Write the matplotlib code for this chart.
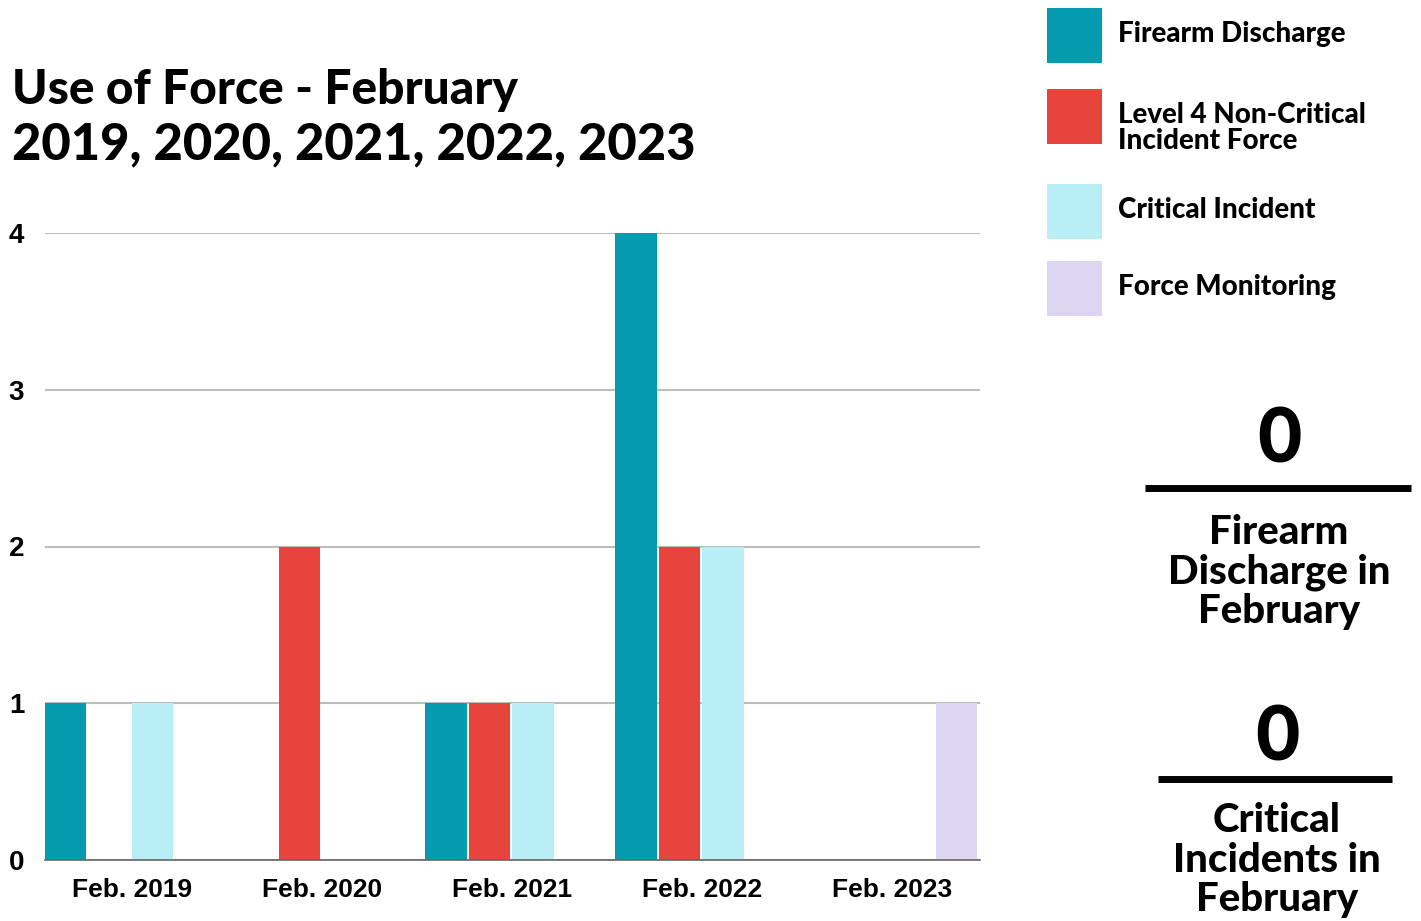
import matplotlib
matplotlib.use("Agg")
import matplotlib.pyplot as plt
from matplotlib.patches import Rectangle
from matplotlib.lines import Line2D
import numpy as np

# monthly use-of-force counts, February of each year
periods = ["Feb. 2019", "Feb. 2020", "Feb. 2021", "Feb. 2022", "Feb. 2023"]
firearm = [1, 0, 1, 4, 0]
level4 = [0, 2, 1, 2, 0]
critical = [1, 0, 1, 2, 0]
monitoring = [0, 0, 0, 0, 1]
yticks = [0, 1, 2, 3, 4]
series_names = ["Firearm Discharge", "Level 4 Non-Critical\nIncident Force",
                "Critical Incident", "Force Monitoring"]
colors = ["#049BAE", "#E8443E", "#B9EEF4", "#DDD6F3"]

HEAD = "Lato"
TICK = "Liberation Sans"
W, H = 1421, 921

fig = plt.figure(figsize=(W / 100, H / 100), dpi=100)
ax = fig.add_axes([45 / W, 61 / H, 935 / W, (860 - 233) / H])

slot, bw = 0.229, 0.218
x = np.arange(len(periods))
for k, vals in enumerate([firearm, level4, critical, monitoring]):
    ax.bar(x + k * slot, vals, width=bw, align="edge", color=colors[k],
           zorder=3, linewidth=0)

ax.set_xlim(0, 4.92)
ax.set_ylim(0, 4)
ax.set_yticks(yticks, [str(v) for v in yticks], fontsize=20,
              fontweight="bold", family=TICK)
ax.set_xticks(x + 2 * slot, periods, fontsize=19, fontweight="bold",
              family=TICK)
ax.tick_params(axis="both", length=0)
ax.tick_params(axis="y", pad=15)
ax.tick_params(axis="x", pad=13)
ax.grid(axis="y", color="#BDBDBD", lw=1.5, zorder=0)
for s in ["top", "right", "left"]:
    ax.spines[s].set_visible(False)
ax.spines["bottom"].set_color("#666666")
ax.spines["bottom"].set_linewidth(1.2)
ax.spines["bottom"].set_zorder(4)

# title
fig.text(12 / W, 1 - 90 / H, "Use of Force - February", fontsize=34.5,
         fontweight="black", family=HEAD, va="center", ha="left")
fig.text(12 / W, 1 - 145 / H, "2019, 2020, 2021, 2022, 2023", fontsize=36.5,
         fontweight="black", family=HEAD, va="center", ha="left")

# legend
box_tops = [8, 89, 184, 261]
text_y = [34, 128, 210, 287]
for top, ty, name, c in zip(box_tops, text_y, series_names, colors):
    fig.add_artist(Rectangle((1047 / W, 1 - (top + 55) / H), 55 / W, 55 / H,
                             transform=fig.transFigure, color=c, lw=0))
    fig.text(1118 / W, 1 - ty / H, name, fontsize=20,
             fontweight="black", family=HEAD, va="center", ha="left",
             linespacing=1.02)

# summary figures for the latest February
stats = [(firearm[-1], "Firearm\nDischarge in\nFebruary", 1279, 440, 1145, 1411, 488, 572),
         (critical[-1], "Critical\nIncidents in\nFebruary", 1277, 738, 1158, 1392, 779, 860)]
for val, lab, cx, vy, x0, x1, ly, ty in stats:
    fig.text(cx / W, 1 - vy / H, str(val), fontsize=55, fontweight="black",
             family=HEAD, ha="center", va="center")
    fig.add_artist(Line2D([x0 / W, x1 / W], [1 - ly / H, 1 - ly / H],
                          transform=fig.transFigure, color="black", lw=5,
                          solid_capstyle="butt"))
    fig.text(cx / W, 1 - ty / H, lab, fontsize=29, fontweight="black",
             family=HEAD, ha="center", va="center", linespacing=1.07)

fig.savefig("out.png", dpi=100)
